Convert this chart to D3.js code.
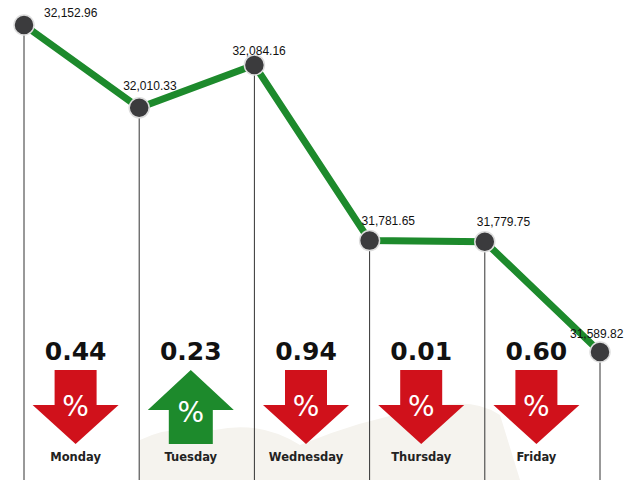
<!DOCTYPE html>
<html><head><meta charset="utf-8">
<script src="https://cdn.jsdelivr.net/npm/d3@7"></script>
<style>body{margin:0;background:#fff}svg{display:block}</style>
</head><body><div id="chart"></div>
<script>
const days = ['Monday', 'Tuesday', 'Wednesday', 'Thursday', 'Friday'];
const closes = [32152.96, 32010.33, 32084.16, 31781.65, 31779.75, 31589.82];
const changes = [0.44, 0.23, 0.94, 0.01, 0.60];
const direction = ['down', 'up', 'down', 'down', 'down'];
const labelDx = [20, -16, -22, -8, -8, -30];
const labelDy = [-8, -18, -10, -16, -16, -14];

const width = 640, height = 480;
const svg = d3.select('#chart').append('svg').attr('width', width).attr('height', height);

// background map shape hint
svg.append('path')
  .attr('d', 'M140,480 L140,440 Q170,425 215,430 Q260,420 300,445 Q360,420 420,410 Q470,395 500,415 L520,480 Z')
  .attr('fill', '#f5f3ee');

const x = d3.scalePoint().domain(d3.range(closes.length)).range([24, 600]);
const y = d3.scaleLinear().domain([31589.82, 32152.96]).range([352, 25]);

// vertical lines
svg.selectAll('line.v').data(closes).enter().append('line')
  .attr('x1', (d, i) => x(i)).attr('x2', (d, i) => x(i))
  .attr('y1', d => y(d)).attr('y2', height)
  .attr('stroke', '#333').attr('stroke-width', 1);

svg.append('path').datum(closes)
  .attr('d', d3.line().x((d, i) => x(i)).y(d => y(d)))
  .attr('fill', 'none').attr('stroke', '#1d8a2c').attr('stroke-width', 7);

svg.selectAll('circle').data(closes).enter().append('circle')
  .attr('cx', (d, i) => x(i)).attr('cy', d => y(d)).attr('r', 10)
  .attr('fill', '#3b3b3d').attr('stroke', '#ddd').attr('stroke-width', 1.5);

svg.selectAll('text.val').data(closes).enter().append('text')
  .attr('x', (d, i) => x(i) + labelDx[i]).attr('y', (d, i) => y(d) + labelDy[i])
  .attr('font-family', 'Liberation Sans, Arial, sans-serif').attr('font-size', 12)
  .attr('fill', '#111').text(d => d3.format(',.2f')(d));

// arrows between points
const g = svg.selectAll('g.day').data(days).enter().append('g')
  .attr('transform', (d, i) => `translate(${(x(i) + x(i + 1)) / 2 - 6},0)`);

g.append('text').attr('text-anchor', 'middle').attr('y', 360)
  .attr('font-family', 'DejaVu Sans, sans-serif').attr('font-weight', 'bold').attr('font-size', 25)
  .attr('fill', '#111').text((d, i) => changes[i].toFixed(2));

const downPath = 'M-21,370 L21,370 L21,405 L43,405 L0,444 L-43,405 L-21,405 Z';
const upPath = 'M0,370 L43,410 L22,410 L22,444 L-22,444 L-22,410 L-43,410 Z';
g.append('path')
  .attr('d', (d, i) => direction[i] === 'up' ? upPath : downPath)
  .attr('fill', (d, i) => direction[i] === 'up' ? '#1d8a2c' : '#d0111b');

g.append('text').attr('text-anchor', 'middle').attr('y', (d, i) => direction[i] === 'up' ? 422 : 416)
  .attr('font-family', 'DejaVu Sans, sans-serif').attr('font-size', 28).attr('fill', '#fff').text('%');

g.append('text').attr('text-anchor', 'middle').attr('y', 461)
  .attr('font-family', 'DejaVu Sans, sans-serif').attr('font-weight', 'bold').attr('font-size', 11.5)
  .attr('fill', '#222').text(d => d);
</script></body></html>
